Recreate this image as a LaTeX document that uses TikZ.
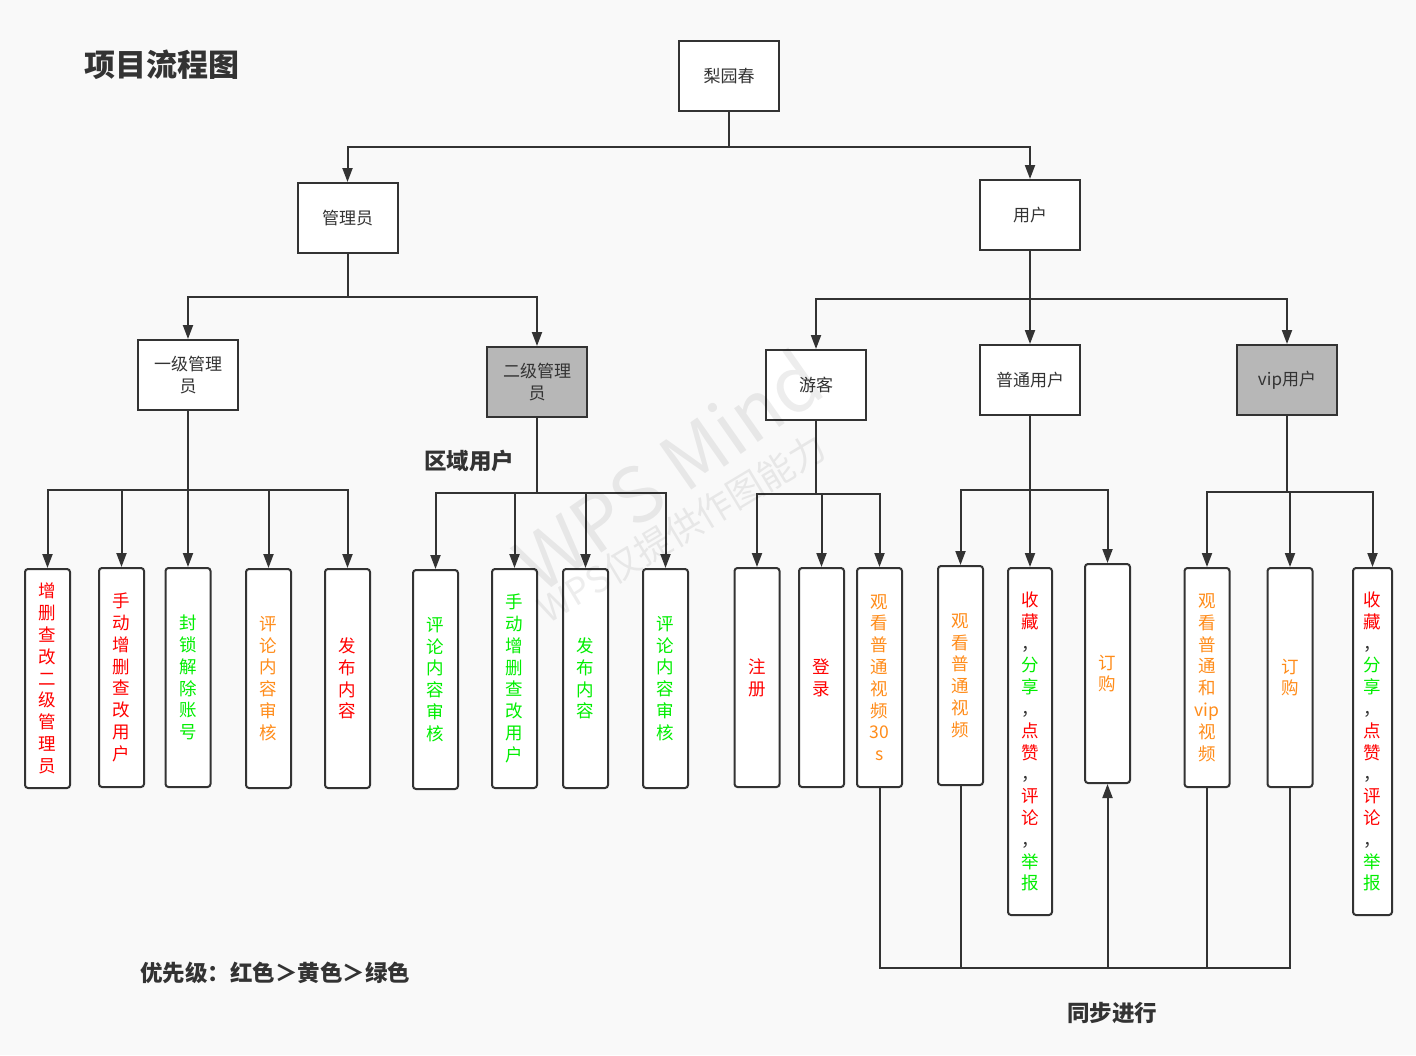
\documentclass[tikz,border=0pt]{standalone}
\usepackage{fontspec}
\setmainfont{Noto Sans CJK SC}
\usetikzlibrary{arrows.meta}
\definecolor{bg}{HTML}{F9F9F9}
\definecolor{ln}{HTML}{333333}
\definecolor{gbox}{HTML}{B7B7B7}
\definecolor{cr}{HTML}{FF0000}
\definecolor{co}{HTML}{FF8C1A}
\definecolor{cg}{HTML}{00EE00}
\begin{document}
\begin{tikzpicture}[x=1pt,y=-1pt,
 mainbox/.style={draw=ln,line width=2pt,fill=white,minimum width=100pt,minimum height=70pt,inner sep=0pt,text=ln,align=center,font=\fontsize{17}{22}\selectfont},
 graybox/.style={mainbox,fill=gbox},
 leaf/.style={draw=ln,line width=2pt,fill=white,rounded corners=3pt,minimum width=45pt,minimum height=219pt,inner sep=0pt,align=center,font=\fontsize{17.5}{21.8}\selectfont},
 tall/.style={minimum height=347pt},
 wire/.style={draw=ln,line width=2pt},
 arr/.style={draw=ln,line width=2pt,-{Triangle[length=14pt,width=10pt]}},
 lbl/.style={text=ln,inner sep=0pt,anchor=west,font=\bfseries\fontsize{22.5}{26}\selectfont},
 wmark/.style={text=black,opacity=0.07,inner sep=0pt}
]
\path[fill=bg] (0,0) rectangle (1416,1055);

% main nodes
\node[mainbox] (root) at (729,76) {梨园春};
\node[mainbox] (admin) at (347.5,218) {管理员};
\node[mainbox] (user) at (1030,215) {用户};
\node[mainbox] (lv1) at (188,375) {一级管理\\员};
\node[graybox] (lv2) at (537,382) {二级管理\\员};
\node[mainbox] (guest) at (816,385) {游客};
\node[mainbox] (normal) at (1030,380) {普通用户};
\node[graybox] (vip) at (1287,380) {vip用户};

% leaves group 1
\node[leaf,text=cr] (a1) at (47.5,678.5) {增\\删\\查\\改\\二\\级\\管\\理\\员};
\node[leaf,text=cr] (a2) at (121.5,677.5) {手\\动\\增\\删\\查\\改\\用\\户};
\node[leaf,text=cg] (a3) at (188,677.5) {封\\锁\\解\\除\\账\\号};
\node[leaf,text=co] (a4) at (268.5,678.5) {评\\论\\内\\容\\审\\核};
\node[leaf,text=cr] (a5) at (347.5,678.5) {发\\布\\内\\容};
% group 2
\node[leaf,text=cg] (b1) at (435.5,679.5) {评\\论\\内\\容\\审\\核};
\node[leaf,text=cg] (b2) at (514.5,678.5) {手\\动\\增\\删\\查\\改\\用\\户};
\node[leaf,text=cg] (b3) at (585.5,678.5) {发\\布\\内\\容};
\node[leaf,text=cg] (b4) at (665.5,678.5) {评\\论\\内\\容\\审\\核};
% group 3
\node[leaf,text=cr] (c1) at (757,677.5) {注\\册};
\node[leaf,text=cr] (c2) at (821.5,677.5) {登\\录};
\node[leaf,text=co] (c3) at (879.5,677.5) {观\\看\\普\\通\\视\\频\\30\\s};
% group 4
\node[leaf,text=co] (d1) at (960.5,675.5) {观\\看\\普\\通\\视\\频};
\node[leaf,tall,minimum width=44pt,text=ln] (d2) at (1030,741.5) {\textcolor{cr}{收}\\\textcolor{cr}{藏}\\，\\\textcolor{cg}{分}\\\textcolor{cg}{享}\\，\\\textcolor{cr}{点}\\\textcolor{cr}{赞}\\，\\\textcolor{cr}{评}\\\textcolor{cr}{论}\\，\\\textcolor{cg}{举}\\\textcolor{cg}{报}};
\node[leaf,text=co] (d3) at (1107.5,673.5) {订\\购};
% group 5
\node[leaf,text=co] (e1) at (1207,677.5) {观\\看\\普\\通\\和\\vip\\视\\频};
\node[leaf,text=co] (e2) at (1290,677.5) {订\\购};
\node[leaf,tall,minimum width=39pt,text=ln] (e3) at (1372.5,741.5) {\textcolor{cr}{收}\\\textcolor{cr}{藏}\\，\\\textcolor{cg}{分}\\\textcolor{cg}{享}\\，\\\textcolor{cr}{点}\\\textcolor{cr}{赞}\\，\\\textcolor{cr}{评}\\\textcolor{cr}{论}\\，\\\textcolor{cg}{举}\\\textcolor{cg}{报}};

% junctions
\coordinate (j0) at (729,147);
\coordinate (j1) at (347.5,297);
\coordinate (j2) at (1030,299);
\coordinate (ja) at (188,490);
\coordinate (jb) at (537,493);
\coordinate (jc) at (816,494);
\coordinate (jd) at (1030,490);
\coordinate (je) at (1287,492);
\coordinate (sync) at (1107.5,968);

\draw[wire] (root.south) -- (j0);
\draw[arr] (j0) -| (admin.north);
\draw[arr] (j0) -| (user.north);

\draw[wire] (admin.south) -- (j1);
\draw[arr] (j1) -| (lv1.north);
\draw[arr] (j1) -| (lv2.north);

\draw[wire] (user.south) -- (j2);
\draw[arr] (j2) -| (guest.north);
\draw[arr] (j2) -- (normal.north);
\draw[arr] (j2) -| (vip.north);

\draw[wire] (lv1.south) -- (ja);
\foreach \n in {a1,a2,a3,a4,a5} \draw[arr] (ja) -| (\n.north);
\draw[wire] (lv2.south) -- (jb);
\foreach \n in {b1,b2,b3,b4} \draw[arr] (jb) -| (\n.north);
\draw[wire] (guest.south) -- (jc);
\foreach \n in {c1,c2,c3} \draw[arr] (jc) -| (\n.north);
\draw[wire] (normal.south) -- (jd);
\foreach \n in {d1,d2,d3} \draw[arr] (jd) -| (\n.north);
\draw[wire] (vip.south) -- (je);
\foreach \n in {e1,e2,e3} \draw[arr] (je) -| (\n.north);

\draw[wire] (c3.south) |- (sync);
\draw[wire] (d1.south) |- (sync);
\draw[wire] (e1.south) |- (sync);
\draw[wire] (e2.south) |- (sync);
\draw[arr] (sync) -- (d3.south);

% labels
\node[lbl,font=\bfseries\fontsize{31}{34}\selectfont] (title) at (84,65) {项目流程图};
\node[lbl] (region) at (424,461) {区域用户};
\node[lbl] (legend) at (140,973) {优先级：红色＞黄色＞绿色};
\node[lbl] (synclbl) at (1067,1013) {同步进行};

% watermark
\node[wmark,rotate=35,font=\fontsize{76}{76}\selectfont] (wm1) at (668,470) {WPS Mind};
\node[wmark,rotate=31,font=\fontsize{36}{36}\selectfont] (wm2) at (682,528) {WPS仅提供作图能力};
\end{tikzpicture}
\end{document}
